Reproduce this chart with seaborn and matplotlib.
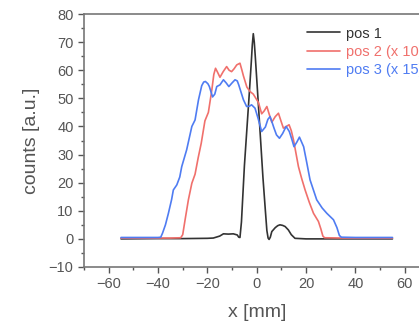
import numpy as np
import pandas as pd
import matplotlib
matplotlib.use("Agg")
import matplotlib.pyplot as plt
import seaborn as sns
from matplotlib.ticker import MultipleLocator

# pos 1 (raw)
x1 = [-55, -40, -30, -20, -17.6, -15, -13.5, -11.5, -9.5, -7.9, -7.3, -6.8, -6.2, -5.0, -4.0,
      -3.0, -2.2, -1.8, -1.4, -1.0, -0.6, 0.5, 1.5, 2.5, 3.5, 4.1, 4.6, 5.0, 5.5, 6.1, 7.5,
      8.5, 9.4, 10.5, 11.5, 12.8, 14.0, 15.5, 20, 30, 40, 55]
y1 = [0.0, 0.1, 0.1, 0.2, 0.3, 1.0, 1.8, 1.7, 1.8, 1.4, 0.6, 0.5, 6, 26, 39,
      52, 63, 69, 73, 70, 65, 50, 36, 22, 10, 3, 0.3, -0.2, 0.6, 2.6, 4.0,
      4.7, 5.0, 4.8, 4.4, 3.2, 1.5, 0.2, 0.0, 0.0, 0.0, 0.0]

# pos 2 (x 10)
x2 = [-55, -45, -35, -30.8, -30.0, -29, -27.7, -26.3, -25, -23.7, -22.5, -21, -19.6, -18.2,
      -17.4, -16.7, -16.0, -14.9, -13.6, -12.2, -11.2, -10.2, -9.2, -8.1, -6.8, -6.0, -5.4,
      -4.0, -2.7, -1.4, 0.7, 2.0, 3.0, 4.1, 5.0, 6.1, 7.5, 8.8, 9.8, 10.8, 12.0, 13.1, 14.0,
      14.9, 16.9, 18.2, 19.6, 21.3, 23, 25, 26, 26.8, 27.5, 35, 45, 55]
y2 = [0.3, 0.3, 0.3, 0.4, 1.5, 7, 13.9, 19.8, 23, 29, 34, 42, 45, 53,
      58.5, 60.7, 59.5, 57.5, 59.5, 61.3, 60.0, 59.5, 60.5, 61.9, 62.5, 60, 58,
      54, 52.4, 51.5, 48.5, 44.5, 45.5, 47.1, 44.5, 41.5, 43.5, 44.7, 42, 39.4, 40.0, 40.6, 38.5,
      35.2, 25.7, 21.5, 17.4, 13, 9.1, 6.2, 3.5, 1.0, 0.4, 0.3, 0.3, 0.3]

# pos 3 (x 15)
x3 = [-55, -45, -40, -38.9, -38.2, -37, -35.8, -34.5, -33.8, -32.4, -31.2, -30.4, -28.4, -26.3,
      -25, -23.6, -22.3, -21.5, -20.8, -19.8, -19.2, -17.9, -17.0, -16.2, -14.9, -13.5,
      -12.4, -11.3, -10.0, -8.8, -7.9, -7.3, -5.4, -4.1, -3.0, -2.1, -0.7, 0.5, 2.0, 3.5,
      4.5, 5.4, 6.2, 7.0, 8.0, 9.2, 10.5, 11.9, 13.2, 14.2, 15.1, 16.3, 17.3, 19.0, 20.3, 21.6,
      24.3, 26.5, 28.4, 31.1, 32.5, 33.5, 34.3, 40, 50, 55]
y3 = [0.5, 0.5, 0.5, 0.6, 2, 5, 9.1, 14, 17.4, 19.2, 22, 25.7, 31.7, 40,
      42.3, 49.5, 54.5, 55.8, 56, 55.2, 54.2, 50.5, 51.5, 54.2, 54.8, 56.6,
      55.5, 54.2, 55.5, 56.6, 56.2, 54.8, 49.5, 47.1, 47.2, 47.7, 46.5, 43, 38.2, 39.8,
      42.5, 43.5, 41.5, 39.4, 37.0, 35.8, 37.5, 40, 38.2, 35.5, 32.8, 34.5, 36.2, 32.8, 27, 21,
      13.9, 11, 9.1, 6.8, 4, 1.2, 0.6, 0.5, 0.5, 0.5]

series = [("pos 1", x1, y1, "#333333"),
          ("pos 2 (x 10)", x2, y2, "#f0706c"),
          ("pos 3 (x 15)", x3, y3, "#4f7cf2")]

sns.set_style("ticks")
plt.rcParams["font.family"] = ["Liberation Sans", "DejaVu Sans"]
grey = "#555555"

fig = plt.figure(figsize=(4.19, 3.26), dpi=100)
ax = fig.add_axes([0.2005, 0.181, 0.8245, 0.776])

for label, xs, ys, col in series:
    df = pd.DataFrame({"x": xs, "y": ys})
    sns.lineplot(data=df, x="x", y="y", ax=ax, color=col, lw=1.2, label=label,
                 solid_joinstyle="round")

ax.set_xlim(-70, 70)
ax.set_ylim(-10, 80)
ax.set_xticks(np.arange(-60, 61, 20))
ax.set_yticks(np.arange(-10, 81, 10))
ax.xaxis.set_minor_locator(MultipleLocator(10))
ax.yaxis.set_minor_locator(MultipleLocator(5))
ax.tick_params(which="major", direction="out", length=4, width=1, colors=grey,
               labelsize=10.5, top=False, right=False)
ax.tick_params(which="minor", direction="out", length=2, width=1, colors=grey,
               top=False, right=False)
for sp in ax.spines.values():
    sp.set_color("#777777")
    sp.set_linewidth(1.2)
ax.set_xlabel("x [mm]", fontsize=14, color=grey, labelpad=9)
ax.set_ylabel("counts [a.u.]", fontsize=14, color=grey, labelpad=6)

leg = ax.legend(loc="upper left", bbox_to_anchor=(0.62, 0.985), frameon=False,
                fontsize=10.5, labelcolor="linecolor", handlelength=2.3,
                handletextpad=0.4, labelspacing=0.3, borderaxespad=0.2)

fig.savefig("out.png", dpi=100)
